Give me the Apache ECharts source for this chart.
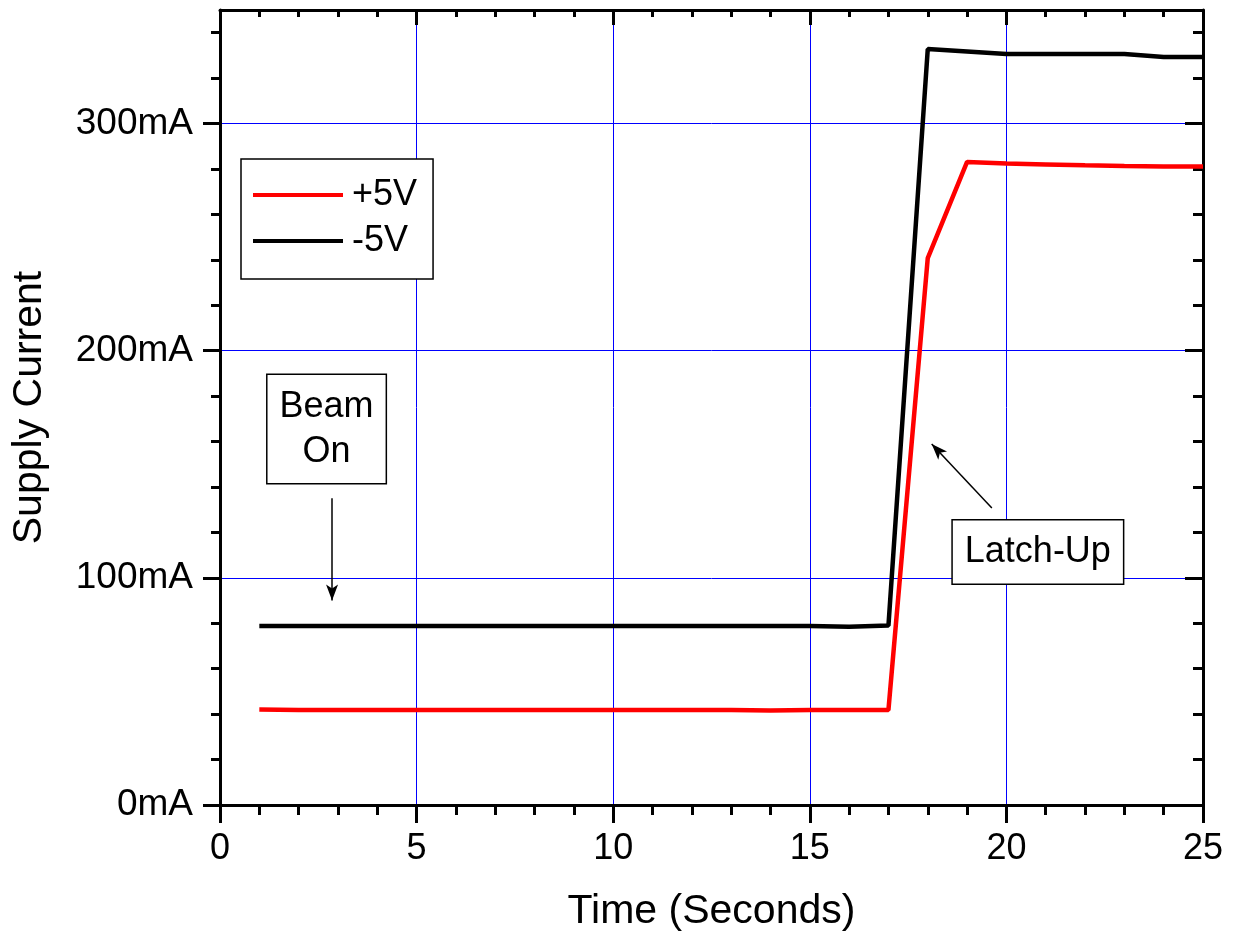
<!DOCTYPE html>
<html>
<head>
<meta charset="utf-8">
<script src="https://cdn.jsdelivr.net/npm/echarts@6/dist/echarts.min.js"></script>
<style>
html,body{margin:0;padding:0;background:#fff;}
#c{width:1233px;height:934px;}
</style>
</head>
<body>
<div id="c"></div>
<script>
// ---- data ----
const timeSeconds = [1,2,3,4,5,6,7,8,9,10,11,12,13,14,15,16,17,18,19,20,21,22,23,24,25];
const plus5V  = [42,41.8,41.8,41.8,41.8,41.8,41.8,41.8,41.8,41.8,41.8,41.8,41.8,41.6,41.8,41.8,41.8,240.8,283.1,282.4,282,281.6,281.3,281.1,281.1];
const minus5V = [78.8,78.8,78.8,78.8,78.8,78.8,78.8,78.8,78.8,78.8,78.8,78.8,78.8,78.8,78.8,78.5,79,332.8,331.7,330.6,330.6,330.6,330.6,329.3,329.3];
const seriesNames = ['+5V', '-5V'];
const yMajorTicks = [0,100,200,300];
const yMinorTicks = [20,40,60,80,120,140,160,180,220,240,260,280,320,340];
const xTickLabels = [0,5,10,15,20,25];
// annotations (data coordinates)
const beamArrow = [[2.85,135],[2.85,90]];
const beamLabel = {x:2.71, y:165.5, text:'Beam\nOn'};
const latchArrow = [[19.63,130.8],[18.1,158.9]];
const latchLabel = {x:20.8, y:111.4, text:'Latch-Up'};

const FONT = 'Liberation Sans, Arial, sans-serif';
const pair = (xs, ys) => xs.map((x,i)=>[x, ys[i]]);

const chart = echarts.init(document.getElementById('c'), null, {renderer:'canvas'});
const black = '#000';
const blue = '#0000ff';

const labelBox = (l) => ({
  coord:[l.x, l.y],
  symbol:'rect', symbolSize:1,
  itemStyle:{color:'rgba(0,0,0,0)'},
  label:{
    show:true, position:'inside', formatter:l.text,
    fontFamily:FONT, fontSize:36, color:black, lineHeight:45, align:'center',
    backgroundColor:'#fff', borderColor:black, borderWidth:1.5,
    padding:[9,12,9,12]
  }
});

const axLine = {show:true, onZero:false, lineStyle:{color:black, width:3}};
const noLine = {show:false, onZero:false};

const option = {
  animation:false,
  backgroundColor:'#fff',
  grid:{left:220, right:30, top:10, bottom:129, containLabel:false, outerBoundsMode:'none'},
  legend:{
    data:seriesNames,
    orient:'vertical', left:241, top:159,
    icon:'rect', itemWidth:90, itemHeight:4, itemGap:10,
    padding:[18,16,20,12],
    borderColor:black, borderWidth:1.5, backgroundColor:'#fff',
    textStyle:{fontFamily:FONT, fontSize:36, color:black, padding:[0,0,0,4]}
  },
  xAxis:[
    {type:'value', position:'bottom', min:0, max:25, interval:5,
     axisLine:axLine,
     axisTick:{show:true, inside:false, length:18, lineStyle:{color:black, width:3}},
     minorTick:{show:true, splitNumber:5, length:10, lineStyle:{color:black, width:3}},
     axisLabel:{fontFamily:FONT, fontSize:36, color:black, margin:26},
     splitLine:{show:true, lineStyle:{color:blue, width:1}},
     name:'Time (Seconds)', nameLocation:'middle', nameGap:86,
     nameTextStyle:{fontFamily:FONT, fontSize:41, color:black}},
    {type:'value', position:'top', min:0, max:25, interval:5,
     axisLine:axLine,
     axisTick:{show:true, inside:true, length:15, lineStyle:{color:black, width:3}},
     minorTick:{show:true, splitNumber:5, length:7, lineStyle:{color:black, width:3}},
     axisLabel:{show:false}, splitLine:{show:false}}
  ],
  yAxis:[
    {type:'value', position:'left', min:0, max:350, interval:100,
     axisLine:axLine,
     axisTick:{show:true, inside:false, length:17, customValues:yMajorTicks, lineStyle:{color:black, width:3}},
     axisLabel:{fontFamily:FONT, fontSize:37, color:black, margin:27, customValues:yMajorTicks, formatter:'{value}mA'},
     splitLine:{show:true, lineStyle:{color:blue, width:1}},
     name:'Supply Current', nameLocation:'middle', nameGap:170,
     nameTextStyle:{fontFamily:FONT, fontSize:41, color:black}},
    {type:'value', position:'left', min:0, max:350, interval:100,
     axisLine:noLine,
     axisTick:{show:true, inside:false, length:9, customValues:yMinorTicks, lineStyle:{color:black, width:3}},
     axisLabel:{show:false}, splitLine:{show:false}},
    {type:'value', position:'right', min:0, max:350, interval:100,
     axisLine:axLine,
     axisTick:{show:true, inside:true, length:18, customValues:yMajorTicks, lineStyle:{color:black, width:3}},
     axisLabel:{show:false}, splitLine:{show:false}},
    {type:'value', position:'right', min:0, max:350, interval:100,
     axisLine:noLine,
     axisTick:{show:true, inside:true, length:10, customValues:yMinorTicks, lineStyle:{color:black, width:3}},
     axisLabel:{show:false}, splitLine:{show:false}}
  ],
  series:[
    {name:seriesNames[0], type:'line', xAxisIndex:0, yAxisIndex:0,
     data:pair(timeSeconds, plus5V), showSymbol:false, symbol:'none',
     lineStyle:{color:'#ff0000', width:4.5}, itemStyle:{color:'#ff0000'}, z:3},
    {name:seriesNames[1], type:'line', xAxisIndex:0, yAxisIndex:0,
     data:pair(timeSeconds, minus5V), showSymbol:false, symbol:'none',
     lineStyle:{color:black, width:4.5}, itemStyle:{color:black}, z:4,
     markLine:{
       silent:true, symbol:['none','arrow'], symbolSize:[9,16],
       label:{show:false},
       lineStyle:{color:black, width:1.5, type:'solid'},
       data:[
         [{coord:beamArrow[0]},{coord:beamArrow[1]}],
         [{coord:latchArrow[0]},{coord:latchArrow[1]}]
       ]
     },
     markPoint:{
       silent:true,
       data:[labelBox(beamLabel), labelBox(latchLabel)]
     }}
  ]
};
chart.setOption(option);
</script>
</body>
</html>
